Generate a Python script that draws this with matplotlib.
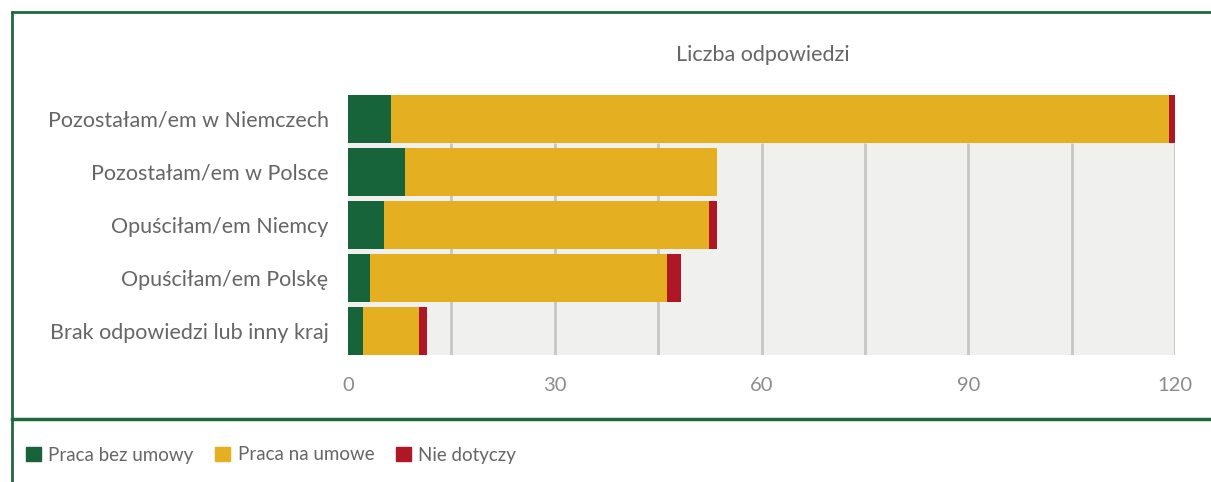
import matplotlib.pyplot as plt
from matplotlib.patches import Rectangle
from matplotlib.lines import Line2D

# Data
categories = [
    "Pozostałam/em w Niemczech",
    "Pozostałam/em w Polsce",
    "Opuściłam/em Niemcy",
    "Opuściłam/em Polskę",
    "Brak odpowiedzi lub inny kraj",
]
bez_umowy = [6.2, 8.3, 5.2, 3.2, 2.2]
na_umowe = [113, 45.3, 47.2, 43.1, 8.1]
nie_dotyczy = [1.0, 0.0, 1.2, 2.0, 1.2]

series_names = ["Praca bez umowy", "Praca na umowe", "Nie dotyczy"]
series_colors = ["#17643A", "#E4B022", "#AF1626"]

x_ticks = [0, 30, 60, 90, 120]
grid_every = 15

plt.rcParams["font.family"] = ["Lato", "DejaVu Sans"]
txt_col = "#666666"

fig = plt.figure(figsize=(12.11, 4.82), dpi=100)
ax = fig.add_axes([348 / 1211, 1 - 354.7 / 482, (1175 - 348) / 1211, (354.7 - 95) / 482])

y = list(range(len(categories)))
left = [0] * len(categories)
for vals, name, col in zip([bez_umowy, na_umowe, nie_dotyczy], series_names, series_colors):
    ax.barh(y, vals, left=left, height=0.9, color=col, label=name, zorder=3)
    left = [a + b for a, b in zip(left, vals)]

ax.set_xlim(0, 120)
ax.set_ylim(len(categories) - 0.55, -0.45)

# grey plot area sits below the first bar
ax.add_patch(Rectangle((0, 0.45), 120, len(categories) - 0.55 - 0.45,
                       facecolor="#F0F1EF", edgecolor="none", zorder=0))
ax.vlines(range(grid_every, 121, grid_every), 0.45, len(categories) - 0.55,
          color="#C6C6C6", linewidth=2, zorder=1)

for s in ax.spines.values():
    s.set_visible(False)

ax.set_yticks(y)
ax.set_yticklabels(categories, fontsize=15.5, color=txt_col)
ax.set_xticks(x_ticks)
ax.set_xticklabels([str(t) for t in x_ticks], fontsize=14.5, color="#8C8C8C")
ax.tick_params(axis="both", length=0)
ax.tick_params(axis="y", pad=14)
ax.tick_params(axis="x", pad=16)

fig.text(763 / 1211, 1 - 55 / 482, "Liczba odpowiedzi", ha="center", va="center",
         fontsize=15.5, color=txt_col)

# green frame
frame = "#1E6A3E"
fig.add_artist(Line2D([12 / 1211, 1], [1 - 12 / 482, 1 - 12 / 482], color=frame, lw=2))
fig.add_artist(Line2D([12 / 1211, 12 / 1211], [0, 1 - 12 / 482], color=frame, lw=2))
fig.add_artist(Line2D([12 / 1211, 1], [1 - 419 / 482, 1 - 419 / 482], color=frame, lw=2.5))

handles = [Rectangle((0, 0), 1, 1, color=c) for c in series_colors]
fig.legend(handles, series_names, loc="center left", bbox_to_anchor=(26 / 1211, 1 - 455 / 482),
           ncol=3, frameon=False, fontsize=13.5, labelcolor=txt_col,
           borderpad=0, borderaxespad=0,
           handlelength=0.8, handleheight=0.8, handletextpad=0.4, columnspacing=1.15)

fig.savefig("out.png", dpi=100)
